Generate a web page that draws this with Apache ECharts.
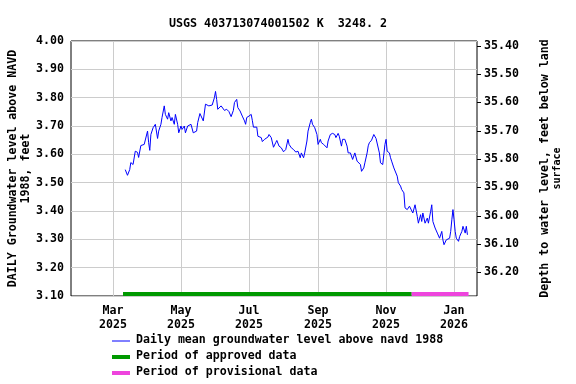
<!DOCTYPE html>
<html>
<head>
<meta charset="utf-8">
<title>USGS 403713074001502</title>
<script src="https://cdn.jsdelivr.net/npm/echarts@6/dist/echarts.min.js"></script>
<style>
  html, body { margin: 0; padding: 0; background: #fff; }
  #main { width: 576px; height: 384px; }
</style>
</head>
<body>
<div id="main"></div>
<script>
// daily mean level above NAVD 1988
var levels = [
  ['2025-03-12', 3.546], ['2025-03-14', 3.526], ['2025-03-16', 3.546], ['2025-03-17', 3.571],
  ['2025-03-19', 3.564], ['2025-03-21', 3.611], ['2025-03-23', 3.607], ['2025-03-24', 3.589],
  ['2025-03-26', 3.631], ['2025-03-27', 3.625], ['2025-03-29', 3.635], ['2025-04-01', 3.682],
  ['2025-04-02', 3.641], ['2025-04-03', 3.614], ['2025-04-04', 3.670], ['2025-04-06', 3.694],
  ['2025-04-08', 3.706], ['2025-04-10', 3.656], ['2025-04-11', 3.682], ['2025-04-13', 3.706],
  ['2025-04-14', 3.730], ['2025-04-16', 3.771], ['2025-04-17', 3.741], ['2025-04-19', 3.724],
  ['2025-04-20', 3.747], ['2025-04-22', 3.718], ['2025-04-23', 3.730], ['2025-04-25', 3.706],
  ['2025-04-26', 3.741], ['2025-04-28', 3.706], ['2025-04-29', 3.676], ['2025-05-01', 3.700],
  ['2025-05-02', 3.688], ['2025-05-04', 3.700], ['2025-05-05', 3.676], ['2025-05-07', 3.700],
  ['2025-05-10', 3.706], ['2025-05-12', 3.676], ['2025-05-15', 3.682], ['2025-05-16', 3.712],
  ['2025-05-18', 3.744], ['2025-05-21', 3.718], ['2025-05-23', 3.777], ['2025-05-26', 3.771],
  ['2025-05-29', 3.774], ['2025-05-31', 3.800], ['2025-06-01', 3.822], ['2025-06-02', 3.794],
  ['2025-06-03', 3.759], ['2025-06-04', 3.755], ['2025-06-06', 3.771], ['2025-06-09', 3.755],
  ['2025-06-11', 3.759], ['2025-06-13', 3.751], ['2025-06-15', 3.733], ['2025-06-17', 3.755],
  ['2025-06-18', 3.783], ['2025-06-20', 3.794], ['2025-06-21', 3.765], ['2025-06-23', 3.753],
  ['2025-06-25', 3.735], ['2025-06-27', 3.718], ['2025-06-28', 3.706], ['2025-06-29', 3.730],
  ['2025-07-01', 3.735], ['2025-07-03', 3.741], ['2025-07-04', 3.720], ['2025-07-05', 3.696],
  ['2025-07-08', 3.696], ['2025-07-09', 3.664], ['2025-07-12', 3.659], ['2025-07-13', 3.645],
  ['2025-07-15', 3.653], ['2025-07-18', 3.661], ['2025-07-19', 3.670], ['2025-07-21', 3.659],
  ['2025-07-23', 3.625], ['2025-07-25', 3.641], ['2025-07-26', 3.649], ['2025-07-28', 3.629],
  ['2025-07-30', 3.623], ['2025-08-01', 3.609], ['2025-08-03', 3.617], ['2025-08-05', 3.653],
  ['2025-08-06', 3.635], ['2025-08-08', 3.623], ['2025-08-10', 3.617], ['2025-08-12', 3.608],
  ['2025-08-14', 3.611], ['2025-08-16', 3.588], ['2025-08-17', 3.605], ['2025-08-19', 3.588],
  ['2025-08-20', 3.605], ['2025-08-22', 3.647], ['2025-08-23', 3.682], ['2025-08-25', 3.712],
  ['2025-08-26', 3.724], ['2025-08-27', 3.706], ['2025-08-29', 3.694], ['2025-08-30', 3.688],
  ['2025-08-31', 3.670], ['2025-09-01', 3.635], ['2025-09-03', 3.653], ['2025-09-04', 3.641],
  ['2025-09-06', 3.635], ['2025-09-07', 3.641], ['2025-09-09', 3.623], ['2025-09-10', 3.647],
  ['2025-09-12', 3.670], ['2025-09-14', 3.674], ['2025-09-16', 3.670], ['2025-09-17', 3.659],
  ['2025-09-19', 3.674], ['2025-09-20', 3.664], ['2025-09-22', 3.629], ['2025-09-23', 3.653],
  ['2025-09-25', 3.653], ['2025-09-27', 3.629], ['2025-09-28', 3.605], ['2025-09-30', 3.605],
  ['2025-10-02', 3.582], ['2025-10-04', 3.605], ['2025-10-06', 3.576], ['2025-10-07', 3.582],
  ['2025-10-09', 3.564], ['2025-10-10', 3.540], ['2025-10-12', 3.552], ['2025-10-13', 3.570],
  ['2025-10-15', 3.605], ['2025-10-16', 3.630], ['2025-10-17', 3.641], ['2025-10-19', 3.650],
  ['2025-10-21', 3.670], ['2025-10-23', 3.656], ['2025-10-24', 3.659], ['2025-10-26', 3.605],
  ['2025-10-27', 3.570], ['2025-10-29', 3.564], ['2025-10-30', 3.570], ['2025-10-31', 3.635],
  ['2025-11-01', 3.653], ['2025-11-02', 3.611], ['2025-11-04', 3.605], ['2025-11-05', 3.588],
  ['2025-11-06', 3.576], ['2025-11-08', 3.552], ['2025-11-09', 3.546], ['2025-11-11', 3.523],
  ['2025-11-12', 3.500], ['2025-11-14', 3.488], ['2025-11-15', 3.476], ['2025-11-17', 3.464],
  ['2025-11-18', 3.411], ['2025-11-20', 3.405], ['2025-11-22', 3.417], ['2025-11-23', 3.411],
  ['2025-11-25', 3.393], ['2025-11-26', 3.387], ['2025-11-27', 3.422], ['2025-11-29', 3.381],
  ['2025-11-30', 3.357], ['2025-12-02', 3.387], ['2025-12-03', 3.363], ['2025-12-04', 3.393],
  ['2025-12-06', 3.357], ['2025-12-08', 3.375], ['2025-12-09', 3.357], ['2025-12-11', 3.399],
  ['2025-12-12', 3.422], ['2025-12-13', 3.363], ['2025-12-15', 3.340], ['2025-12-17', 3.322],
  ['2025-12-18', 3.316], ['2025-12-19', 3.304], ['2025-12-21', 3.328], ['2025-12-22', 3.298],
  ['2025-12-23', 3.281], ['2025-12-25', 3.298], ['2025-12-26', 3.293], ['2025-12-28', 3.304],
  ['2025-12-29', 3.328], ['2025-12-30', 3.369], ['2025-12-31', 3.405], ['2026-01-01', 3.369],
  ['2026-01-02', 3.328], ['2026-01-03', 3.304], ['2026-01-05', 3.293], ['2026-01-06', 3.310],
  ['2026-01-08', 3.328], ['2026-01-09', 3.346], ['2026-01-11', 3.322], ['2026-01-12', 3.346],
  ['2026-01-13', 3.316]
];
var approved = ['2025-03-10', '2025-11-24'];
var provisional = ['2025-11-24', '2026-01-14'];
var monthTicks = ['2025-03-01', '2025-05-01', '2025-07-01', '2025-09-01', '2025-11-01', '2026-01-01'];
var leftTicks = [3.1, 3.2, 3.3, 3.4, 3.5, 3.6, 3.7, 3.8, 3.9, 4.0];
var depthTicks = [35.4, 35.5, 35.6, 35.7, 35.8, 35.9, 36.0, 36.1, 36.2];
var datum = 39.383; // depth = datum - level

var MON = ['Jan', 'Feb', 'Mar', 'Apr', 'May', 'Jun', 'Jul', 'Aug', 'Sep', 'Oct', 'Nov', 'Dec'];
function ts(s) { return new Date(s + 'T00:00:00Z').getTime(); }

var font = 'DejaVu Sans Mono';
var txt = { fontFamily: font, fontWeight: 'bold', fontSize: 11.6, color: '#000' };
var barY = 3.107;

var chart = echarts.init(document.getElementById('main'), null, {renderer: 'canvas'});
chart.setOption({
  animation: false,
  backgroundColor: '#fff',
  title: {
    text: 'USGS 403713074001502 K  3248. 2',
    left: 273, top: 13, textAlign: 'center',
    textStyle: { fontFamily: font, fontWeight: 'bold', fontSize: 11.7, color: '#000' }
  },
  grid: { left: 71, right: 99, top: 41, bottom: 88, outerBoundsMode: 'none', containLabel: false,
    show: true, borderColor: '#000', borderWidth: 1, backgroundColor: 'transparent' },
  xAxis: {
    type: 'value',
    min: ts('2025-01-22') + 8 * 3600e3,
    max: ts('2026-01-21') + 14 * 3600e3,
    axisLine: { show: false },
    axisTick: { show: false, customValues: monthTicks.map(ts) },
    splitLine: { show: true, lineStyle: { color: '#cccccc', width: 1 } },
    axisLabel: Object.assign({}, txt, {
      customValues: monthTicks.map(ts),
      margin: 8, lineHeight: 14,
      formatter: function (v) {
        var d = new Date(v);
        return MON[d.getUTCMonth()] + '\n' + d.getUTCFullYear();
      }
    })
  },
  yAxis: [{
    type: 'value', min: 3.1, max: 4.0,
    name: 'DAILY Groundwater level above NAVD\n1988, feet',
    nameLocation: 'middle', nameRotate: 90, nameGap: 39, nameMoveOverlap: false,
    nameTextStyle: Object.assign({}, txt, { lineHeight: 13 }),
    axisLine: { show: false },
    axisTick: { show: false, customValues: leftTicks },
    splitLine: { show: true, lineStyle: { color: '#cccccc', width: 1 } },
    axisLabel: Object.assign({}, txt, { customValues: leftTicks, margin: 7, formatter: function (v) { return v.toFixed(2); } })
  }, {
    type: 'value', inverse: true,
    min: datum - 4.0, max: datum - 3.1,
    position: 'right',
    name: '{a|Depth to water level, feet below land}\n{b|surface}',
    nameLocation: 'middle', nameRotate: 90, nameGap: 62, nameMoveOverlap: false,
    nameTextStyle: Object.assign({}, txt, {
      lineHeight: 12,
      rich: {
        a: { fontFamily: font, fontWeight: 'bold', fontSize: 11.6, color: '#000', lineHeight: 12 },
        b: { fontFamily: font, fontWeight: 'bold', fontSize: 10, color: '#000', lineHeight: 12 }
      }
    }),
    axisLine: { show: false },
    axisTick: { show: true, inside: false, length: 4, customValues: depthTicks, lineStyle: { color: '#000' } },
    splitLine: { show: false },
    axisLabel: Object.assign({}, txt, { customValues: depthTicks, margin: 7, formatter: function (v) { return v.toFixed(2); } })
  }],
  series: [{
    name: 'Daily mean groundwater level above navd 1988',
    type: 'line', yAxisIndex: 0, symbol: 'none',
    lineStyle: { color: '#0000ff', width: 1 },
    data: levels.map(function (p) { return [ts(p[0]), p[1]]; })
  }, {
    name: 'Period of approved data',
    type: 'line', symbol: 'none', clip: false,
    lineStyle: { color: '#009900', width: 4 },
    data: approved.map(function (d) { return [ts(d), barY]; })
  }, {
    name: 'Period of provisional data',
    type: 'line', symbol: 'none', clip: false,
    lineStyle: { color: '#ee44dd', width: 4 },
    data: provisional.map(function (d) { return [ts(d), barY]; })
  }],
  graphic: [
    { type: 'line', shape: { x1: 112, y1: 341, x2: 130, y2: 341 }, style: { stroke: '#0000ff', lineWidth: 1 } },
    { type: 'text', left: 136, top: 334, style: { text: 'Daily mean groundwater level above navd 1988', font: 'bold 11.6px "DejaVu Sans Mono"', fill: '#000' } },
    { type: 'line', shape: { x1: 112, y1: 357, x2: 130, y2: 357 }, style: { stroke: '#009900', lineWidth: 4 } },
    { type: 'text', left: 136, top: 350, style: { text: 'Period of approved data', font: 'bold 11.6px "DejaVu Sans Mono"', fill: '#000' } },
    { type: 'line', shape: { x1: 112, y1: 373, x2: 130, y2: 373 }, style: { stroke: '#ee44dd', lineWidth: 4 } },
    { type: 'text', left: 136, top: 366, style: { text: 'Period of provisional data', font: 'bold 11.6px "DejaVu Sans Mono"', fill: '#000' } }
  ]
});
</script>
</body>
</html>
